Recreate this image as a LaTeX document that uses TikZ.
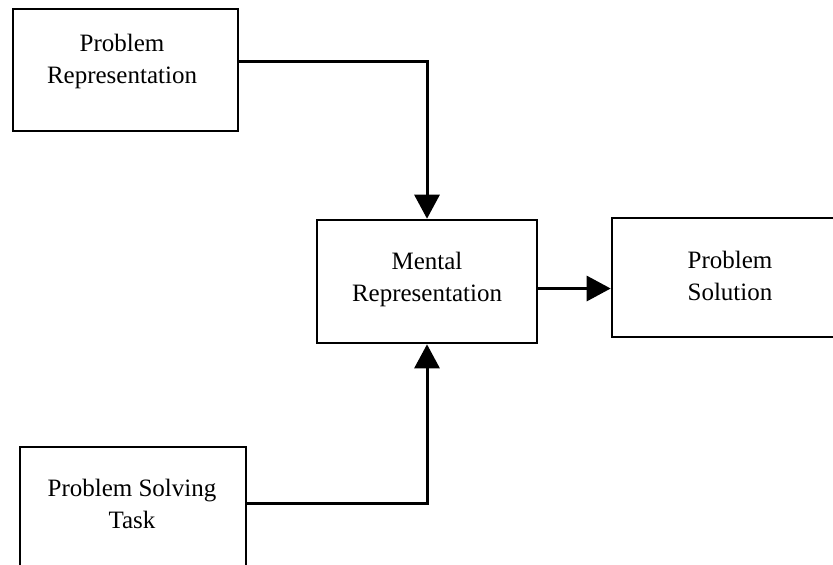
\documentclass[tikz,border=0pt]{standalone}
\usepackage{fontspec}
\setmainfont{Liberation Serif}
\usetikzlibrary{arrows.meta}
\tikzset{
  blk/.style={draw,line width=1.3pt,inner sep=0pt},
  txt/.style={align=center,font=\fontsize{12.5}{16}\selectfont},
  arr/.style={line width=1.5pt,-{Triangle[width=12.5pt,length=12pt]}}
}
\begin{document}
\begin{tikzpicture}[x=0.5pt,y=-0.5pt]
\useasboundingbox (0,0) rectangle (833,564);
\clip (0,0) rectangle (833,564);
\node[blk,minimum width=112.5pt,minimum height=61pt] (pr) at (125.5,70) {};
\node[blk,minimum width=110pt,minimum height=61.5pt] (mr) at (427,281.5) {};
\node[blk,minimum width=118pt,minimum height=59.5pt] (sol) at (730,277.5) {};
\node[blk,minimum width=113pt,minimum height=64pt] (ps) at (133,511) {};
\node[txt] (prt) at (122,61) {Problem\\Representation};
\node[txt] (mrt) at (427,279) {Mental\\Representation};
\node[txt] (solt) at (730,275.5) {Problem\\Solution};
\node[txt] (pst) at (132,503.5) {Problem Solving\\Task};
\draw[arr] (prt -| pr.east) -| (mr.north);
\draw[arr] (pst -| ps.east) -| (mr.south);
\draw[arr] ([yshift=-3.5pt]mr.east) -- ([yshift=-3.5pt]mr.east -| sol.west);
\end{tikzpicture}
\end{document}
